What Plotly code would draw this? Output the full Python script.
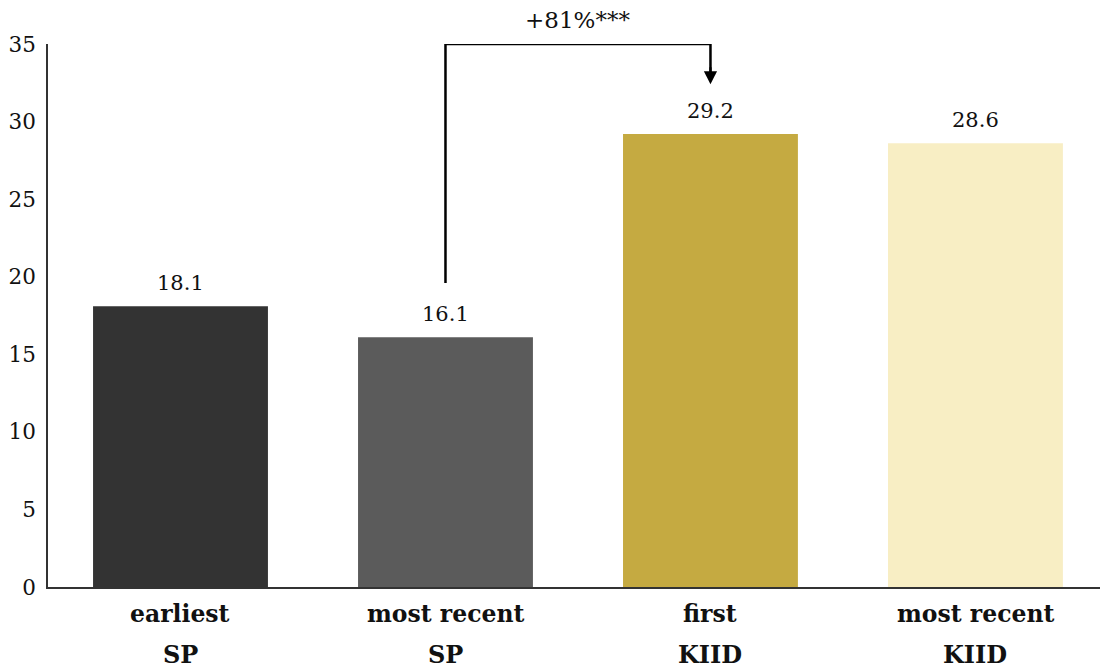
import plotly.graph_objects as go

categories = ["earliest", "most recent", "first", "most recent"]
groups = ["SP", "SP", "KIID", "KIID"]
values = [18.1, 16.1, 29.2, 28.6]
colors = ["#333333", "#5b5b5b", "#c5aa41", "#f8eec4"]
y_ticks = [0, 5, 10, 15, 20, 25, 30, 35]
bracket_label = "+81%***"
bracket_from, bracket_to = 1, 2
bracket_start_y, bracket_top_y, bracket_end_y = 19.6, 35, 32.4

FONT = "DejaVu Serif"
TXT = "#111111"
x = list(range(len(values)))

fig = go.Figure()
fig.add_trace(go.Bar(
    x=x, y=values, width=0.66, marker=dict(color=colors, line=dict(width=0)),
    hoverinfo="y",
))
for xi, v in zip(x, values):
    fig.add_annotation(x=xi, y=v, xref="x", yref="y", text=f"{v:.1f}", showarrow=False,
                       yanchor="middle", yshift=23, font=dict(family=FONT, size=21, color=TXT))

# bracket
fig.add_trace(go.Scatter(
    x=[bracket_from, bracket_from, bracket_to, bracket_to],
    y=[bracket_start_y, bracket_top_y, bracket_top_y, bracket_end_y + 0.6],
    mode="lines", line=dict(color="black", width=2.5), cliponaxis=False,
    hoverinfo="skip", showlegend=False,
))
fig.add_annotation(x=bracket_to, y=bracket_end_y, ax=bracket_to, ay=bracket_end_y + 1.2,
                   xref="x", yref="y", axref="x", ayref="y", text="", showarrow=True,
                   arrowhead=2, arrowsize=1.2, arrowwidth=2.2, arrowcolor="black")
fig.add_annotation(x=(bracket_from + bracket_to) / 2, y=bracket_top_y, xref="x", yref="y",
                   text=bracket_label, showarrow=False, yanchor="middle", yshift=24,
                   font=dict(family=FONT, size=23, color=TXT))

for i, (c, g) in enumerate(zip(categories, groups)):
    fig.add_annotation(x=i, y=0, xref="x", yref="paper", text=f"<b>{c}</b>", showarrow=False,
                       yanchor="middle", yshift=-27, font=dict(family=FONT, size=23.5, color=TXT))
    fig.add_annotation(x=i, y=0, xref="x", yref="paper", text=f"<b>{g}</b>", showarrow=False,
                       yanchor="middle", yshift=-67, font=dict(family=FONT, size=24, color=TXT))

fig.update_layout(
    width=1100, height=668, margin=dict(l=48, r=0, t=44, b=81),
    plot_bgcolor="white", paper_bgcolor="white", showlegend=False,
    font=dict(family=FONT, size=21, color=TXT),
)
fig.update_xaxes(range=[-0.5, 3.47], showticklabels=False, ticks="", showgrid=False,
                 showline=True, linecolor="#333", linewidth=1.5, zeroline=False)
fig.update_yaxes(range=[0, 35], tickvals=y_ticks, ticks="", showgrid=False,
                 showline=True, linecolor="#333", linewidth=1.5, zeroline=False,
                 ticklabelstandoff=6,
                 tickfont=dict(family=FONT, size=21.5, color=TXT))

fig.write_html("out.html")
